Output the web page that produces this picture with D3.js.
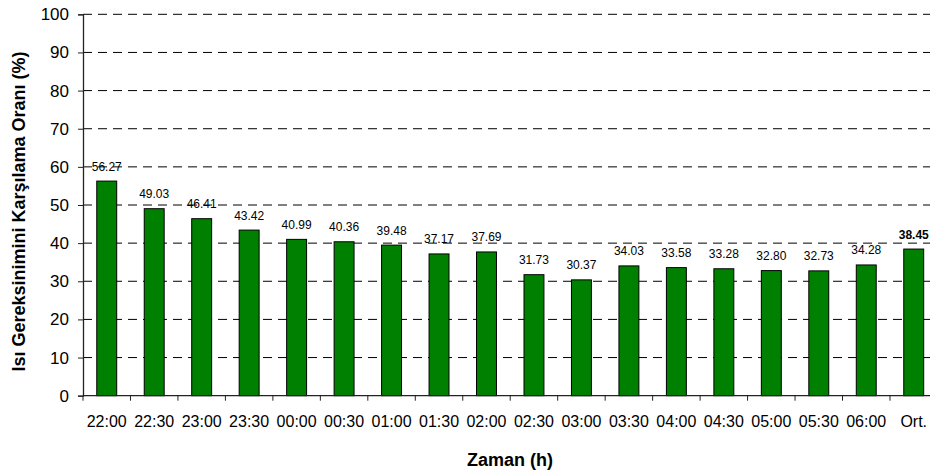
<!DOCTYPE html>
<html>
<head>
<meta charset="utf-8">
<script src="https://cdn.jsdelivr.net/npm/d3@7"></script>
<style>
  html, body { margin: 0; padding: 0; background: #fff; }
  svg { display: block; font-family: "Liberation Sans", Arial, sans-serif; }
</style>
</head>
<body>
<svg id="chart" width="930" height="474"></svg>
<script>
// Time slots (half-hour steps) plus the overall average
const categories = ["22:00", "22:30", "23:00", "23:30", "00:00", "00:30", "01:00", "01:30", "02:00",
                    "02:30", "03:00", "03:30", "04:00", "04:30", "05:00", "05:30", "06:00", "Ort."];
// Heat demand coverage ratio (%)
const values = [56.27, 49.03, 46.41, 43.42, 40.99, 40.36, 39.48, 37.17, 37.69,
                31.73, 30.37, 34.03, 33.58, 33.28, 32.80, 32.73, 34.28, 38.45];
const valueLabels = ["56.27", "49.03", "46.41", "43.42", "40.99", "40.36", "39.48", "37.17", "37.69",
                     "31.73", "30.37", "34.03", "33.58", "33.28", "32.80", "32.73", "34.28", "38.45"];
const yTicks = [0, 10, 20, 30, 40, 50, 60, 70, 80, 90, 100];
const yTitle = "Isı Gereksinimini Karşılama Oranı (%)";
const xTitle = "Zaman (h)";

const svg = d3.select("#chart");
const plotLeft = 83, plotTop = 14.3, plotBottom = 395.7;
const band = 47.47;
const plotRight = plotLeft + band * categories.length;

const x = d3.scaleBand().domain(categories).range([plotLeft, plotRight]).paddingInner(0).paddingOuter(0);
const y = d3.scaleLinear().domain([0, 100]).range([plotBottom, plotTop]);

// dashed horizontal gridlines
svg.append("g").selectAll("line")
  .data(yTicks.filter(d => d > 0))
  .join("line")
  .attr("x1", plotLeft).attr("x2", plotRight)
  .attr("y1", d => y(d)).attr("y2", d => y(d))
  .attr("stroke", "#000").attr("stroke-width", 1)
  .attr("stroke-dasharray", "9,6");

// bars
const bw = band * 0.42;
svg.append("g").selectAll("rect")
  .data(values)
  .join("rect")
  .attr("x", (d, i) => x(categories[i]) + (band - bw) / 2)
  .attr("y", d => y(d))
  .attr("width", bw)
  .attr("height", d => y(0) - y(d))
  .attr("fill", "#008000")
  .attr("stroke", "#000").attr("stroke-width", 1);

// value labels above bars
svg.append("g").selectAll("text")
  .data(values)
  .join("text")
  .attr("x", (d, i) => x(categories[i]) + band / 2)
  .attr("y", d => y(d) - 10.5)
  .attr("text-anchor", "middle")
  .attr("font-size", 12)
  .attr("font-weight", (d, i) => i === values.length - 1 ? "bold" : "normal")
  .attr("fill", "#000")
  .text((d, i) => valueLabels[i]);

// y axis
const yAxis = d3.axisLeft(y).tickValues(yTicks).tickSize(5).tickPadding(9).tickFormat(d3.format("d"));
const gy = svg.append("g").attr("transform", `translate(${plotLeft},0)`).call(yAxis);
gy.select(".domain").attr("stroke", "#222").attr("stroke-width", 1.3);
gy.selectAll(".tick line").attr("stroke", "#222");
gy.selectAll(".tick text").attr("font-size", 17).attr("font-family", "Liberation Sans, Arial, sans-serif").attr("fill", "#000");

// x axis: ticks at band boundaries, labels centered on bands
const gx = svg.append("g").attr("transform", `translate(0,${plotBottom})`);
gx.append("line").attr("x1", plotLeft).attr("x2", plotRight).attr("y1", 0).attr("y2", 0)
  .attr("stroke", "#222").attr("stroke-width", 1.3);
gx.selectAll("line.tk")
  .data(d3.range(categories.length + 1))
  .join("line").attr("class", "tk")
  .attr("x1", i => plotLeft + i * band).attr("x2", i => plotLeft + i * band)
  .attr("y1", 0).attr("y2", 5)
  .attr("stroke", "#222");
gx.selectAll("text")
  .data(categories)
  .join("text")
  .attr("x", d => x(d) + band / 2)
  .attr("y", 31.5)
  .attr("text-anchor", "middle")
  .attr("font-size", 16)
  .attr("fill", "#000")
  .text(d => d);

// axis titles
svg.append("text")
  .attr("transform", "translate(24.5,211.5) rotate(-90)")
  .attr("text-anchor", "middle")
  .attr("font-size", 18).attr("font-weight", "bold")
  .text(yTitle);

svg.append("text")
  .attr("x", 510).attr("y", 466)
  .attr("text-anchor", "middle")
  .attr("font-size", 18).attr("font-weight", "bold")
  .text(xTitle);
</script>
</body>
</html>
